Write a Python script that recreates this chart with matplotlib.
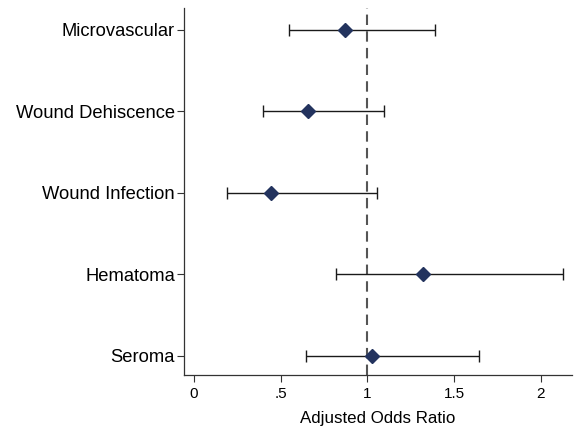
import matplotlib
matplotlib.use("Agg")
import matplotlib.pyplot as plt

outcomes = ["Seroma", "Hematoma", "Wound Infection", "Wound Dehiscence", "Microvascular"]
odds_ratio = [1.026, 1.322, 0.443, 0.658, 0.870]
ci_low = [0.643, 0.820, 0.187, 0.395, 0.547]
ci_high = [1.644, 2.129, 1.055, 1.095, 1.388]
xticks = [0, 0.5, 1, 1.5, 2]
xticklabels = ["0", ".5", "1", "1.5", "2"]

plt.rcParams['font.family'] = ['Liberation Sans', 'DejaVu Sans']

fig = plt.figure(figsize=(5.74, 4.29), dpi=100)
ax = fig.add_axes([0.3206, 0.1259, 0.676, 0.8555])

ypos = list(range(1, len(outcomes) + 1))
ax.axvline(1, color='#555555', linestyle=(0, (5, 3)), linewidth=1.5, zorder=1)
xerr = [[o - l for o, l in zip(odds_ratio, ci_low)], [h - o for o, h in zip(odds_ratio, ci_high)]]
ax.errorbar(odds_ratio, ypos, xerr=xerr, fmt='none', ecolor='#1a1a1a',
            elinewidth=1.0, capsize=4, capthick=1.0, zorder=2)
ax.plot(odds_ratio, ypos, linestyle='none', marker='D', markersize=7,
        color='#23335e', zorder=3)

ax.set_xlim(-0.058, 2.18)
ax.set_ylim(0.767, 5.27)
ax.set_yticks(ypos)
ax.set_yticklabels(outcomes, fontsize=13.2)
ax.set_xticks(xticks)
ax.set_xticklabels(xticklabels, fontsize=11)
ax.set_xlabel("Adjusted Odds Ratio", fontsize=12.2, labelpad=7)
ax.tick_params(axis='both', direction='out', length=5, width=0.8, color='#333333')
ax.tick_params(axis='y', pad=1.5)
for s in ['top', 'right']:
    ax.spines[s].set_visible(False)
for s in ['left', 'bottom']:
    ax.spines[s].set_linewidth(0.9)
    ax.spines[s].set_color('#333333')

fig.savefig("out.png", dpi=100)
